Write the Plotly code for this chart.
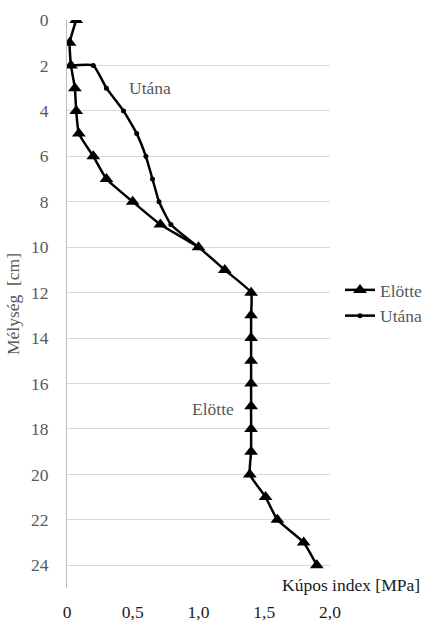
import plotly.graph_objects as go

# Data
elotte_depth = [0, 1, 2, 3, 4, 5, 6, 7, 8, 9, 10, 11, 12, 13, 14, 15, 16, 17, 18, 19, 20, 21, 22, 23, 24]
elotte_index = [0.07, 0.02, 0.03, 0.06, 0.07, 0.09, 0.20, 0.30, 0.50, 0.71, 1.00, 1.20, 1.40, 1.40, 1.40,
                1.40, 1.40, 1.40, 1.40, 1.40, 1.39, 1.51, 1.60, 1.80, 1.90]
utana_depth = [2, 2, 3, 4, 5, 6, 7, 8, 9, 10]
utana_index = [0.03, 0.20, 0.30, 0.43, 0.53, 0.60, 0.65, 0.70, 0.79, 1.00]

y_ticks = list(range(0, 25, 2))
x_tickvals = [0, 0.5, 1.0, 1.5, 2.0]
x_ticktext = ["0", "0,5", "1,0", "1,5", "2,0"]

FONT = "Liberation Serif"
GRAY = "#595959"
DARK = "#1a1a1a"
FS = 17.5

W, H = 425, 620
ML, MR, MT, MB = 67, 95, 20, 32
pw, ph = W - ML - MR, H - MT - MB

fig = go.Figure()
fig.add_trace(go.Scatter(
    x=elotte_index, y=elotte_depth, name="Elötte", mode="lines+markers",
    line=dict(color="black", width=2.5, shape="spline", smoothing=0.4),
    marker=dict(symbol="triangle-up", size=12, color="black"),
))
fig.add_trace(go.Scatter(
    x=utana_index, y=utana_depth, name="Utána", mode="lines+markers",
    line=dict(color="black", width=2.5, shape="spline", smoothing=0.4),
    marker=dict(symbol="circle", size=5, color="black"),
))

fig.update_layout(
    width=W, height=H,
    margin=dict(l=ML, r=MR, t=MT, b=MB, autoexpand=False),
    paper_bgcolor="white", plot_bgcolor="white",
    font=dict(family=FONT, size=FS, color=GRAY),
    showlegend=True,
    legend=dict(xref="container", yref="container", x=340 / W, y=1 - 272 / H,
                xanchor="left", yanchor="top",
                font=dict(family=FONT, size=FS, color=GRAY),
                bgcolor="rgba(0,0,0,0)", itemwidth=30, tracegroupgap=0),
    xaxis=dict(range=[0, 2.0], tickvals=x_tickvals, ticktext=x_ticktext,
               showgrid=False, zeroline=False, showline=False, automargin=False,
               ticks="", ticklabelstandoff=11,
               tickfont=dict(family=FONT, size=FS, color=DARK)),
    yaxis=dict(range=[25, 0], tickvals=y_ticks, showgrid=True, gridcolor="#d9d9d9",
               gridwidth=1, zeroline=False, showline=True, linecolor="#bfbfbf", linewidth=1,
               ticks="", ticklabelstandoff=14, automargin=False,
               tickfont=dict(family=FONT, size=FS, color=GRAY),
               title=dict(text="Mélység  [cm]", font=dict(family=FONT, size=FS, color=GRAY), standoff=6)),
    annotations=[
        dict(x=0.63, y=3.0, xref="x", yref="y", text="Utána", showarrow=False,
             font=dict(family=FONT, size=FS, color=GRAY)),
        dict(x=1.11, y=17.1, xref="x", yref="y", text="Elötte", showarrow=False,
             font=dict(family=FONT, size=FS, color=GRAY)),
        dict(x=(422 - ML) / pw, y=1 - (585 - MT) / ph, xref="paper", yref="paper",
             xanchor="right", yanchor="middle", text="Kúpos index [MPa]", showarrow=False,
             font=dict(family=FONT, size=FS, color=DARK)),
    ],
)

fig.write_html("out.html")
